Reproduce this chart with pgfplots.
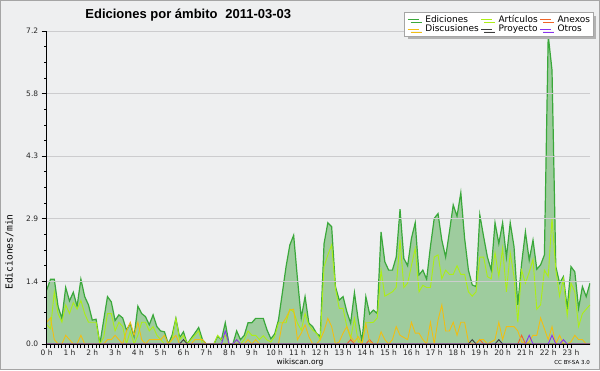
\documentclass[border=0pt]{standalone}
\usepackage{fontspec}
\setmainfont{DejaVu Sans}
\newfontfamily\titlefont{Liberation Sans}
\newfontfamily\lblfont{DejaVu Sans Mono}
\usepackage{pgfplots}
\usepackage{pgfplotstable}
\pgfplotsset{compat=1.18}
\usetikzlibrary{shadows}

\definecolor{bgc}{RGB}{238,239,240}
\definecolor{bordc}{RGB}{165,165,165}
\definecolor{gridc}{RGB}{204,204,206}
\definecolor{edfill}{RGB}{158,204,158}
\definecolor{edline}{RGB}{58,168,58}
\definecolor{arcol}{RGB}{172,238,22}
\definecolor{dicol}{RGB}{240,190,20}
\definecolor{ancol}{RGB}{238,100,40}
\definecolor{prcol}{RGB}{60,60,60}
\definecolor{otcol}{RGB}{136,51,238}

\pgfplotstableread{
x ed ar an di pr ot
0 1.24 0.45 0 0.5 0 0
1 1.49 0.35 0 0.6 0 0
2 1.49 1.2 0 0.1 0 0
3 0.86 0.7 0 0 0 0
4 0.59 0.5 0 0 0 0
5 1.3 0.9 0 0.2 0 0
6 0.99 0.7 0 0.1 0 0
7 1.19 0.95 0 0 0 0
8 0.87 0.8 0 0 0 0
9 1.49 1.0 0 0.2 0 0
10 1.09 0.7 0 0 0 0
11 0.9 0.5 0 0 0 0
12 0.55 0.5 0 0 0 0
13 0.57 0.5 0 0 0 0
14 0 0 0 0 0 0
15 0.55 0.15 0 0 0 0
16 1.09 0.7 0 0.1 0 0
17 0.97 0.7 0 0.1 0 0
18 0.54 0.3 0 0.2 0 0
19 0.67 0.5 0 0.1 0 0
20 0.6 0.4 0 0 0 0
21 0.32 0 0 0.3 0 0
22 0.47 0.3 0 0.5 0 0
23 0.17 0 0 0.2 0 0
24 0.87 0.2 0 0.5 0 0
25 0.7 0.5 0 0.1 0 0
26 0.63 0.5 0 0 0 0
27 0.44 0.3 0 0.1 0 0
28 0.67 0.4 0 0.1 0 0
29 0.4 0.2 0 0.1 0 0
30 0.3 0.1 0 0.1 0 0
31 0.28 0 0 0.2 0 0
32 0 0 0 0 0 0
33 0.2 0.1 0 0.1 0 0
34 0.59 0.59 0 0.2 0 0
35 0.15 0.1 0 0 0 0
36 0.28 0.2 0 0 0.1 0
37 0 0 0 0 0 0
38 0.13 0.1 0 0 0 0
39 0.25 0.2 0 0.1 0 0
40 0.38 0.3 0 0.1 0 0
41 0.1 0 0 0.1 0 0
42 0 0 0 0 0 0
43 0 0 0 0 0 0
44 0 0 0 0 0 0
45 0.18 0.2 0 0 0 0
46 0.1 0.1 0 0 0 0
47 0.49 0.2 0 0 0 0.3
48 0 0 0 0 0 0
49 0 0 0 0 0 0
50 0.3 0.1 0 0 0 0.1
51 0.1 0 0 0 0 0
52 0.2 0.1 0 0 0 0
53 0.49 0.3 0 0.1 0 0
54 0.49 0.2 0 0 0 0
55 0.59 0.2 0 0.1 0 0
56 0.59 0.1 0 0 0 0
57 0.59 0.19 0 0 0 0
58 0.32 0.09 0 0 0 0
59 0.12 0.05 0 0 0 0
60 0.23 0.17 0 0 0 0
61 0.55 0.49 0 0 0 0
62 1.16 0.49 0 0.47 0 0
63 1.78 0.49 0 0.6 0 0
64 2.28 0.8 0 0.78 0 0
65 2.5 0.74 0 0.8 0 0
66 1.5 0.48 0 0.1 0 0
67 0.6 0.32 0 0.25 0 0
68 1.09 0.7 0 0.44 0 0
69 0.48 0.44 0 0.17 0 0
70 0.4 0.32 0 0 0 0
71 0.25 0.25 0 0 0 0
72 0.17 0.1 0 0.1 0 0
73 2.31 1.78 0 0.3 0 0
74 2.79 2.05 0 0.59 0 0
75 2.7 2.28 0 0.4 0 0
76 1.32 1.28 0 0 0 0
77 1.01 0.82 0 0.05 0 0
78 1.09 0.82 0 0.25 0 0
79 0.74 0.4 0 0.4 0 0
80 0.48 0.13 0.1 0.17 0 0
81 1.18 0.59 0 0.05 0 0
82 0.55 0.05 0 0.17 0 0
83 0.05 0.03 0 0 0 0
84 1.09 0.49 0 0.47 0 0
85 0.69 0.49 0.1 0.05 0 0
86 0.78 0.5 0 0 0 0
87 0.7 0.6 0 0 0 0
88 2.58 1.7 0 0.28 0 0
89 1.89 1.1 0 0.1 0 0
90 1.7 1.15 0 0 0 0
91 1.7 1.2 0 0.1 0 0
92 2.0 1.3 0 0.4 0 0
93 3.1 2.4 0 0.2 0 0
94 1.97 1.3 0 0.15 0 0
95 1.8 1.4 0 0.1 0 0
96 2.43 1.8 0 0.5 0 0
97 2.79 2.2 0 0.25 0 0
98 1.59 1.2 0 0.25 0 0
99 1.7 1.35 0 0.1 0 0
100 1.49 1.3 0 0 0 0
101 2.24 1.3 0 0.5 0 0
102 2.89 2.0 0 0 0 0
103 3.0 2.05 0 0.55 0 0
104 2.39 1.5 0 0.9 0 0
105 2.0 1.7 0 0.3 0 0
106 2.58 1.6 0 0.3 0 0
107 3.2 1.6 0 0.5 0 0
108 2.94 1.8 0 0.2 0 0
109 3.48 1.6 0 0.5 0 0
110 2.43 1.6 0 0.5 0 0
111 1.7 1.2 0 0.05 0 0
112 1.36 1.1 0 0 0.1 0
113 1.32 1.2 0 0 0 0
114 2.97 2.0 0.1 0.1 0 0
115 2.47 2.0 0 0.1 0 0
116 2.0 1.55 0 0 0 0
117 1.7 1.5 0 0.05 0 0
118 2.79 2.1 0 0.1 0 0
119 2.31 1.55 0 0.5 0.1 0
120 2.79 2.2 0 0.1 0 0
121 2.0 1.2 0 0.4 0 0
122 2.79 2.1 0 0.4 0 0
123 2.24 1.55 0 0.4 0 0
124 0.9 0.5 0 0.3 0 0
125 1.85 1.7 0.2 0.05 0 0
126 2.58 1.4 0 0 0 0
127 1.93 1.65 0 0.05 0 0.2
128 2.39 1.95 0 0.2 0 0
129 1.72 0.8 0 0.2 0 0
130 1.82 0.9 0 0.6 0 0
131 2.05 1.7 0 0.35 0 0
132 7.1 1.55 0 0.1 0 0
133 6.3 2.9 0 0.4 0 0.2
134 1.78 1.7 0 0 0 0
135 1.4 1.1 0 0.2 0 0
136 1.55 1.5 0 0 0 0.1
137 0.82 0.65 0 0 0 0
138 1.78 1.4 0 0.05 0 0
139 1.66 1.2 0 0.2 0 0
140 0.82 0.4 0 0.1 0 0
141 1.32 0.7 0 0.1 0 0
142 1.09 0.8 0 0 0 0
143 1.4 0.9 0 0 0 0
}\datatable

\begin{document}
\begin{tikzpicture}
\fill[bgc] (-46.7pt,-26pt) rectangle (553.3pt,344pt);
\draw[bordc, line width=1pt] (-46.2pt,-25.5pt) rectangle (552.8pt,343.5pt);
\begin{axis}[
  at={(0pt,0pt)}, anchor=south west,
  scale only axis, width=543.3pt, height=313pt,
  xmin=0, xmax=143, ymin=0, ymax=7.2,
  axis on top,
  axis lines*=left,
  axis line style={-, line width=1pt, black},
  tick align=outside,
  major tick length=5pt, minor tick length=2.5pt,
  xtick={0,6,...,138},
  xticklabels={0 h,1 h,2 h,3 h,4 h,5 h,6 h,7 h,8 h,9 h,10 h,11 h,12 h,13 h,14 h,15 h,16 h,17 h,18 h,19 h,20 h,21 h,22 h,23 h},
  minor x tick num=5,
  xtick style={/pgfplots/major tick length=4pt, /pgfplots/minor tick length=4pt, line width=0.8pt, black},
  ytick={0,1.44,2.88,4.32,5.76,7.2},
  yticklabels={0.0,1.4,2.9,4.3,5.8,7.2},
  minor y tick num=3,
  ytick style={line width=0.8pt, black},
  ymajorgrids,
  major grid style={gridc, line width=0.8pt},
  tick label style={font=\fontsize{7.5}{8}\selectfont, text=black!85},
  xticklabel style={yshift=3pt},
  legend columns=3,
  legend cell align=left,
  legend image code/.code={\draw[#1, line width=0.8pt] (0pt,0pt) -- (11pt,0pt);},
  legend style={at={(1.006,1.0597)}, anchor=north east, draw=bordc, fill=white,
    font=\fontsize{9}{9}\selectfont, inner xsep=3pt, inner ysep=1.5pt,
    row sep=-1.5pt,
    nodes={inner xsep=0pt, inner ysep=1.2pt},
    /tikz/every odd column/.append style={column sep=6pt},
    /tikz/every even column/.append style={column sep=2pt},
    drop shadow={shadow xshift=3pt, shadow yshift=-3pt, fill=black!30, opacity=1}},
]
\addplot[fill=edfill, draw=none, forget plot] table[x=x,y=ed]{\datatable} \closedcycle;
\addplot[edline, line width=1.2pt] table[x=x,y=ed]{\datatable};
\addlegendentry{Ediciones}
\addplot[arcol, line width=0.9pt] table[x=x,y=ar]{\datatable};
\addlegendentry{Artículos}
\addplot[ancol, line width=0.9pt] table[x=x,y=an]{\datatable};
\addlegendentry{Anexos}
\addplot[dicol, line width=0.9pt] table[x=x,y=di]{\datatable};
\addlegendentry{Discusiones}
\addplot[prcol, line width=0.9pt] table[x=x,y=pr]{\datatable};
\addlegendentry{Proyecto}
\addplot[otcol, line width=0.9pt] table[x=x,y=ot]{\datatable};
\addlegendentry{Otros}
\end{axis}
\node[anchor=base] at (141.6pt,325.7pt) {\titlefont\bfseries\fontsize{13}{15}\selectfont Ediciones por ámbito\hspace{0.6em}2011-03-03};
\node[rotate=90] at (-37.2pt,92pt) {\lblfont\fontsize{9.6}{10}\selectfont Ediciones/min};
\node at (253.3pt,-18pt) {\fontsize{7.5}{8}\selectfont wikiscan.org};
\node[anchor=east, inner sep=0pt] at (543.3pt,-18pt) {\fontsize{5.5}{6}\selectfont CC BY-SA 3.0};
\pgfresetboundingbox
\path[use as bounding box] (-46.7pt,-26pt) rectangle (553.3pt,344pt);
\end{tikzpicture}
\end{document}
